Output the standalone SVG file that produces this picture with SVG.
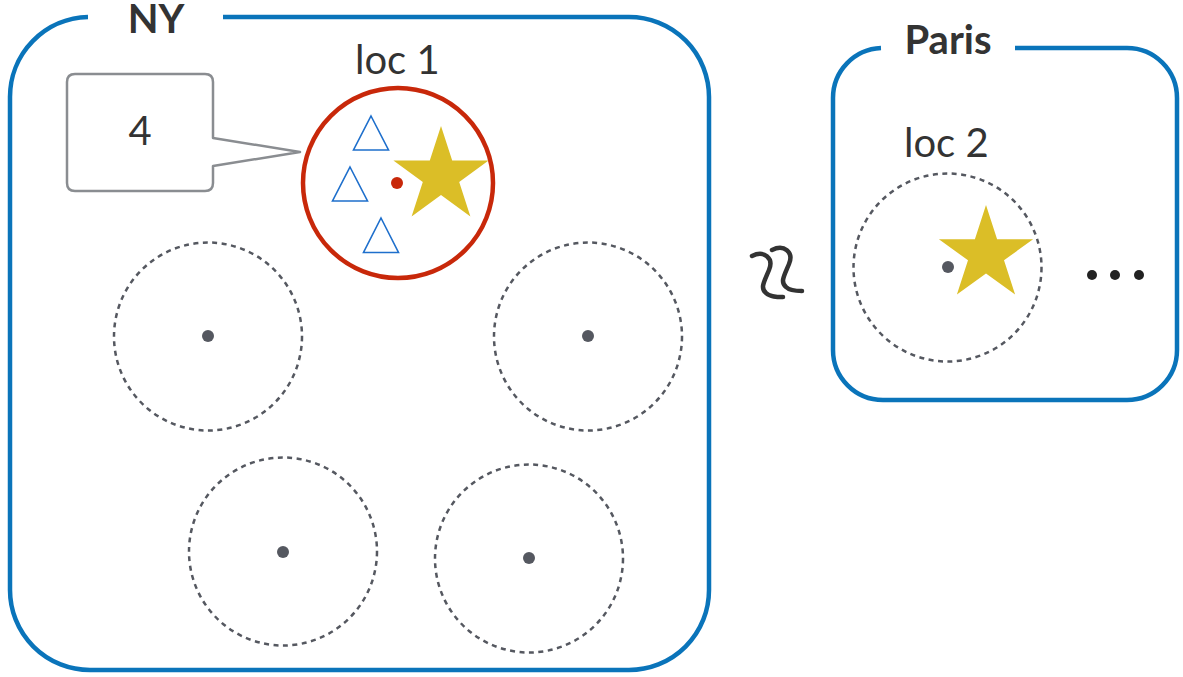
<svg xmlns="http://www.w3.org/2000/svg" width="1183" height="677" viewBox="0 0 1183 677">
  <style>
    .region { fill: none; stroke: #0a74ba; stroke-width: 4.5; }
    .title { font-family: Lato, "Liberation Sans", sans-serif; font-weight: 700; font-size: 40px; fill: #333333; text-anchor: middle; }
    .label { font-family: Lato, "Liberation Sans", sans-serif; font-weight: 400; font-size: 40px; fill: #333333; }
    .zone { fill: none; stroke: #555860; stroke-width: 2.5; stroke-dasharray: 5 4.5; }
    .center { fill: #555860; }
    .star { fill: #dbbe27; }
    .tri { fill: none; stroke: #1e6fcc; stroke-width: 1.6; }
  </style>

  <!-- NY region -->
  <g id="ny">
    <path class="region" d="M223,17 H629 A80,80 0 0 1 709,97 V590 A80,80 0 0 1 629,670 H90 A80,80 0 0 1 10,590 V97 A80,80 0 0 1 88,17"/>
    <text class="title" x="156" y="33">NY</text>
  </g>

  <!-- Paris region -->
  <g id="paris">
    <path class="region" d="M1015,48 H1127 A50,50 0 0 1 1177,98 V350 A50,50 0 0 1 1127,400 H883 A50,50 0 0 1 833,350 V98 A50,50 0 0 1 881,48"/>
    <text class="title" x="948" y="54">Paris</text>
  </g>

  <!-- loc 1: selected location -->
  <g id="loc1">
    <text class="label" x="355" y="74">loc 1</text>
    <circle cx="398" cy="183" r="95" fill="none" stroke="#c8280a" stroke-width="4.5"/>
    <circle cx="397" cy="183" r="6" fill="#c8280a"/>
    <polygon class="star" points="441,126 452.2,160.5 488.6,160.5 459.2,181.9 470.4,216.5 441,195.1 411.6,216.5 422.8,181.9 393.4,160.5 429.8,160.5"/>
    <polygon class="tri" points="371,116 388.5,150 353.5,150"/>
    <polygon class="tri" points="350,167 367.5,201 332.5,201"/>
    <polygon class="tri" points="381,218 398.5,252.5 363.5,252.5"/>
  </g>

  <!-- count callout -->
  <g id="callout">
    <path d="M75,74 H205 Q213,74 213,82 V138 L300,152 L213,166 V183 Q213,191 205,191 H75 Q67,191 67,183 V82 Q67,74 75,74 Z" fill="#ffffff" stroke="#8a8d91" stroke-width="2.5" stroke-linejoin="round"/>
    <text class="label" x="140" y="145" text-anchor="middle">4</text>
  </g>

  <!-- other NY locations -->
  <g id="loc-a">
    <circle class="zone" cx="208" cy="336.5" r="94"/>
    <circle class="center" cx="208" cy="336" r="6"/>
  </g>
  <g id="loc-b">
    <circle class="zone" cx="588" cy="336.5" r="94"/>
    <circle class="center" cx="588" cy="336" r="6"/>
  </g>
  <g id="loc-c">
    <circle class="zone" cx="283" cy="551.5" r="94"/>
    <circle class="center" cx="283" cy="552" r="6"/>
  </g>
  <g id="loc-d">
    <circle class="zone" cx="529" cy="558.5" r="94"/>
    <circle class="center" cx="529" cy="558" r="6"/>
  </g>

  <!-- loc 2 in Paris -->
  <g id="loc2">
    <text class="label" x="904" y="157">loc 2</text>
    <circle class="zone" cx="947.5" cy="267.5" r="94"/>
    <circle class="center" cx="948" cy="267" r="6"/>
    <polygon class="star" points="986,205 997.1,239.2 1033.1,239.2 1004,260.3 1015.1,294.5 986,273.4 956.9,294.5 968,260.3 938.9,239.2 974.9,239.2"/>
  </g>

  <!-- more locations -->
  <g id="more" fill="#222222">
    <circle cx="1092" cy="275" r="5"/>
    <circle cx="1115" cy="275" r="5"/>
    <circle cx="1139" cy="275" r="5"/>
  </g>

  <!-- distance marker between regions -->
  <g id="connectors" fill="none" stroke="#333333" stroke-width="4.5" stroke-linecap="round">
    <path d="M752,256 C764,250 774,258 769,270 C764,282 760,288 766,293 C770,297 777,297 783,297"/>
    <path d="M772,250 C784,244 794,252 789,264 C784,276 780,282 786,287 C790,291 797,291 802,291"/>
  </g>
</svg>
